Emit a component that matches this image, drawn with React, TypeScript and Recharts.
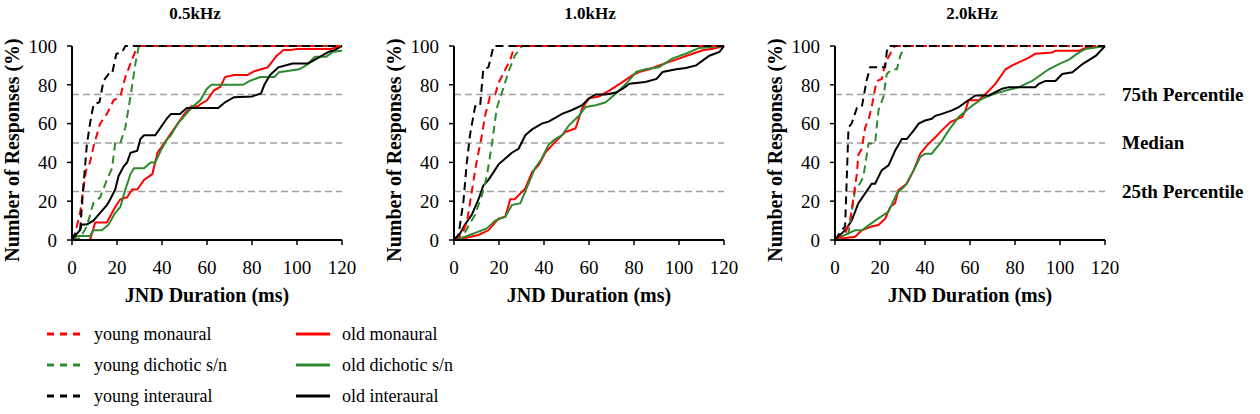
import { LineChart, Line, XAxis, YAxis, ReferenceLine } from "recharts";

type Pt = [number, number];

// 0.5 kHz
const k05YoungMon: Pt[] = [[0,0],[1.3,3],[3.6,14],[5,26],[6.3,36],[8,40],[9.5,48],[12.5,60],[15.5,65],[18.5,72],[21.5,74],[23.7,84],[26.7,93],[29,100],[120,100]];
const k05YoungDich: Pt[] = [[0,0],[3.6,1],[6.6,7],[9.5,19],[12.5,22],[15.5,31],[17.8,37],[19.2,50],[21.5,50],[23.7,58],[26,74],[28.2,91],[29.7,100],[120,100]];
const k05YoungInter: Pt[] = [[0,0],[1.3,3],[3.6,5],[5,27],[6.6,49],[8,60],[9.6,70],[12.2,71],[14,82],[16.3,85.6],[17.8,85.6],[19.7,96],[22.2,96.7],[23.7,100],[120,100]];
const k05OldMon: Pt[] = [[0,0],[8,0],[10.3,9],[15.5,9],[19.2,17],[21.5,21],[24.5,22],[26.7,26],[29,26],[32,31],[35.7,34],[38,45],[41,50],[44,55],[47,60],[50,65],[53,69],[56,69],[57,70],[60,72],[63,77],[66,79],[68,84],[72,85],[78,85],[81,87],[84,88],[87,89],[91,95],[94,98],[97,98],[100,98.5],[115,98.5],[120,100]];
const k05OldDich: Pt[] = [[0,0],[2,2],[8,2],[9.5,5],[13.3,5],[16.3,8],[19.2,14],[21.5,17],[23.7,26],[26,34],[27.5,37],[32,37],[35,40],[37,40],[39.4,46],[42.4,52],[44,54],[47,60],[50,64],[53,68],[57,72],[60,78],[62,80],[76,80],[79,82],[83.6,84],[90,84],[92,86.5],[101,88],[104,90],[108,94.5],[113,94.5],[116,97],[120,97.5]];
const k05OldInter: Pt[] = [[0,0],[2,3],[3.6,5],[4.3,8],[6.6,8],[9.5,10],[12.5,14],[15.5,18],[17,21],[19.2,26],[20.7,33],[23,38],[24.5,40],[26,45],[29,46],[30.4,52],[32,54],[37,54],[39.4,58],[42.4,63],[44,65],[48,65],[51,68],[65,68],[68,71],[72,73.6],[80,74],[84,75.6],[85.5,80],[88,85],[91.7,89],[98,91],[105,91],[108,93],[114,97],[117,98],[120,100]];

// 1.0 kHz
const k10YoungMon: Pt[] = [[0,0],[3.4,2.6],[5.7,9],[7.9,25],[10,40],[12.4,54],[13.8,64],[16,74],[18.3,75],[19.8,81],[22,86],[25,93],[27,100],[120,100]];
const k10YoungDich: Pt[] = [[0,0],[4.9,4],[7.1,8.6],[9.4,13],[12.4,23],[14.6,33],[16.8,49],[19,68],[21.3,76],[24.3,87],[27,95],[30.2,100],[120,100]];
const k10YoungInter: Pt[] = [[0,0],[2,2.6],[4.2,20],[5.7,40],[7.1,54],[9.4,69],[11.6,69],[13,88],[15.3,89],[17.6,100],[120,100]];
const k10OldMon: Pt[] = [[0,0],[4.9,1],[10.9,2.6],[15.3,5],[19.8,11],[22.8,12],[25,21],[27,21],[31.7,26.6],[34.7,35],[37.6,38.6],[40.6,45],[45,50.6],[49.5,55.7],[54,57.5],[57,68],[60,73],[64.4,74],[69,77],[75,81.5],[79.3,85],[82.3,86.6],[86.8,88],[91.2,90],[95.7,91.8],[100,93.5],[106,96],[110.6,97.8],[115,98.6],[120,100]];
const k10OldDich: Pt[] = [[0,0],[4.9,1.7],[14.6,6],[18.3,10],[22.8,12],[25.7,18],[29.5,19],[32.4,27],[36,37],[39,42],[42,49],[45,52],[48,54],[51,59],[55.5,64],[58.5,68.6],[63,69.5],[67.4,71],[72,75.5],[76,80],[81,86.6],[85,88],[91,89],[97,93.5],[103,96],[109,99],[120,100]];
const k10OldInter: Pt[] = [[0,0],[2.7,3.4],[4.9,8],[7.9,13],[10.9,21],[13,28],[15.3,31],[17.6,35],[19.8,39],[22.8,42],[25.7,45],[28.7,47],[31.7,54],[34.7,57],[39,60],[42,61],[45,63],[48,65],[52.5,67],[57,69.5],[60,73],[63,75],[67.4,75],[72,76],[75,78],[78,80.6],[85,81.5],[90,83],[92.7,86.6],[98.7,88],[103,88.7],[107.6,90],[113.5,95],[118,97],[120,100]];

// 2.0 kHz
const k20YoungMon: Pt[] = [[0,0],[4.5,3.4],[6.7,10],[8.2,22],[9.7,34],[10.4,44],[11.9,47],[13.4,58],[14.9,62],[16.3,68.5],[17.8,78],[18.6,82],[20.8,83],[22.3,91],[25.3,97.6],[26.7,100],[120,100]];
const k20YoungDich: Pt[] = [[0,0],[6,3.4],[7.4,13.7],[8.9,25.7],[11,29],[12.6,32.5],[14.9,49.7],[17.8,49.7],[19.3,66.8],[21.5,73.6],[23,85.6],[25.3,88],[27.5,88],[29,95],[31.2,100],[120,100]];
const k20YoungInter: Pt[] = [[0,0],[3,5],[4.5,7],[6,58],[7.4,60],[9.7,68],[11.9,68.5],[14,82],[15.6,89],[22.3,89],[23,97],[23.8,100],[120,100]];
const k20OldMon: Pt[] = [[0,0],[4.5,1],[8.9,1.7],[11.9,5],[16.3,7],[19.3,7.7],[22.3,11],[24.5,17],[26.7,19],[28.2,25.7],[31.9,29],[35,36],[37.9,44.5],[40.9,48.8],[44.6,53],[47.5,56.5],[51.3,60.8],[56.5,63.4],[58,66.8],[59.4,72],[63.9,72],[67.6,76],[71.3,80.5],[75.8,88],[78.8,90],[81.7,91.6],[86.2,94],[89,96],[96.6,96.7],[98,97.6],[108.5,97.6],[111.4,99],[120,100]];
const k20OldDich: Pt[] = [[0,0],[4.5,2.6],[8.9,5],[11.9,5],[17.8,10],[23.8,14.6],[27.5,24],[31.2,28],[35,36],[37.9,42.8],[40,44.5],[43,44.5],[47.5,51],[50.5,56.5],[55,63.4],[61,69.3],[65.4,72.8],[69.8,75],[75.8,77],[81.7,78.8],[87.7,82],[92,85.6],[95,88],[99.5,90.7],[104,93],[108.5,96.7],[111.4,98.5],[120,100]];
const k20OldInter: Pt[] = [[0,0],[3,3.4],[5.2,6],[7.4,10],[10.4,19],[13.4,24],[16.3,29],[17.8,29],[20.8,36],[23.8,38.5],[26.7,46],[29.7,52],[31.9,52],[35,56.5],[37.2,60],[40,61.6],[43,62.5],[44.6,64],[47.5,65],[52,66.8],[55,68.5],[58,71],[62.4,74.5],[68.4,74.5],[74.3,78],[77.3,78.8],[89,78.8],[90.6,80.5],[93.6,82],[98,82],[101,85.6],[105.5,86.5],[110,90.7],[116,95],[120,100]];

const xTicks = [0, 20, 40, 60, 80, 100, 120];
const yTicks = [0, 20, 40, 60, 80, 100];
const percentiles = [25, 50, 75];
const percentileLabels = ["25th Percentile", "Median", "75th Percentile"];

const RED = "#ff0000";
const GREEN = "#2f8a2f";
const BLACK = "#000000";
const FONT = "'Liberation Serif', serif";

const toRows = (pts: Pt[]) => pts.map(([x, y]) => ({ x, y }));

type PanelProps = {
  title: string;
  left: number;
  titleX: number;
  youngMon: Pt[];
  youngDich: Pt[];
  youngInter: Pt[];
  oldMon: Pt[];
  oldDich: Pt[];
  oldInter: Pt[];
};

function Panel(p: PanelProps) {
  const series = [
    { d: p.oldMon, c: RED, dash: undefined },
    { d: p.oldDich, c: GREEN, dash: undefined },
    { d: p.oldInter, c: BLACK, dash: undefined },
    { d: p.youngDich, c: GREEN, dash: "8 5" },
    { d: p.youngMon, c: RED, dash: "8 5" },
    { d: p.youngInter, c: BLACK, dash: "8 5" },
  ];
  return (
    <div style={{ position: "absolute", left: p.left, top: 0, width: 360, height: 310 }}>
      <div style={{ position: "absolute", left: p.titleX - p.left - 60, width: 120, top: 4, textAlign: "center", fontWeight: "bold", fontSize: 17 }}>
        {p.title}
      </div>
      <div style={{ position: "absolute", left: 12 - 130, top: 150 - 12, width: 260, height: 24, lineHeight: "24px", textAlign: "center", fontWeight: "bold", fontSize: 20, transform: "rotate(-90deg)" }}>
        Number of Responses (%)
      </div>
      <div style={{ position: "absolute", left: 72, width: 270, top: 284, textAlign: "center", fontWeight: "bold", fontSize: 20 }}>
        JND Duration (ms)
      </div>
      <LineChart width={360} height={300} margin={{ top: 46, right: 18, bottom: 0, left: 0 }} style={{ fontFamily: FONT }}>
        <XAxis
          type="number"
          dataKey="x"
          domain={[0, 120]}
          ticks={xTicks}
          interval={0}
          height={60}
          tickSize={5}
          tickMargin={16}
          axisLine={{ stroke: BLACK, strokeWidth: 2 }}
          tickLine={{ stroke: BLACK, strokeWidth: 1.5 }}
          tick={{ fill: BLACK, fontSize: 19, fontFamily: FONT }}
          allowDuplicatedCategory={false}
        />
        <YAxis
          type="number"
          domain={[0, 100]}
          ticks={yTicks}
          interval={0}
          width={72}
          tickSize={5}
          tickMargin={10}
          axisLine={{ stroke: BLACK, strokeWidth: 2 }}
          tickLine={{ stroke: BLACK, strokeWidth: 1.5 }}
          tick={{ fill: BLACK, fontSize: 19, fontFamily: FONT }}
        />
        {percentiles.map((v) => (
          <ReferenceLine key={v} y={v} stroke="#a0a0a0" strokeWidth={1.5} strokeDasharray="7 4" />
        ))}
        {series.map((s, i) => (
          <Line
            key={i}
            data={toRows(s.d)}
            dataKey="y"
            type="linear"
            stroke={s.c}
            strokeWidth={2}
            strokeDasharray={s.dash}
            dot={false}
            activeDot={false}
            isAnimationActive={false}
          />
        ))}
      </LineChart>
    </div>
  );
}

const legendLeft = [
  { label: "young monaural", c: RED },
  { label: "young dichotic s/n", c: GREEN },
  { label: "young interaural", c: BLACK },
];
const legendRight = [
  { label: "old monaural", c: RED },
  { label: "old dichotic s/n", c: GREEN },
  { label: "old interaural", c: BLACK },
];

function LegendRow({ x, y, label, c, dashed }: { x: number; y: number; label: string; c: string; dashed: boolean }) {
  return (
    <div style={{ position: "absolute", left: x, top: y - 14, height: 28, display: "flex", alignItems: "center" }}>
      <svg width={36} height={6} style={{ marginRight: dashed ? 11 : 10 }}>
        <line x1={0} y1={3} x2={34} y2={3} stroke={c} strokeWidth={3} strokeDasharray={dashed ? "7 6" : undefined} />
      </svg>
      <span style={{ fontSize: 18 }}>{label}</span>
    </div>
  );
}

export default function App() {
  return (
    <div style={{ position: "absolute", left: 0, top: 0, width: 1260, height: 414, background: "#fff", fontFamily: FONT, color: "#000", overflow: "hidden" }}>
      <Panel title="0.5kHz" left={0} titleX={195} youngMon={k05YoungMon} youngDich={k05YoungDich} youngInter={k05YoungInter} oldMon={k05OldMon} oldDich={k05OldDich} oldInter={k05OldInter} />
      <Panel title="1.0kHz" left={382} titleX={590} youngMon={k10YoungMon} youngDich={k10YoungDich} youngInter={k10YoungInter} oldMon={k10OldMon} oldDich={k10OldDich} oldInter={k10OldInter} />
      <Panel title="2.0kHz" left={763} titleX={972} youngMon={k20YoungMon} youngDich={k20YoungDich} youngInter={k20YoungInter} oldMon={k20OldMon} oldDich={k20OldDich} oldInter={k20OldInter} />
      {percentiles.map((v, i) => (
        <div key={v} style={{ position: "absolute", left: 1122, top: 240 - v * 1.94 - 12, height: 24, lineHeight: "24px", fontWeight: "bold", fontSize: 19, whiteSpace: "nowrap" }}>
          {percentileLabels[i]}
        </div>
      ))}
      {legendLeft.map((l, i) => (
        <LegendRow key={l.label} x={47} y={334 + i * 31} label={l.label} c={l.c} dashed />
      ))}
      {legendRight.map((l, i) => (
        <LegendRow key={l.label} x={296} y={334 + i * 31} label={l.label} c={l.c} dashed={false} />
      ))}
    </div>
  );
}
